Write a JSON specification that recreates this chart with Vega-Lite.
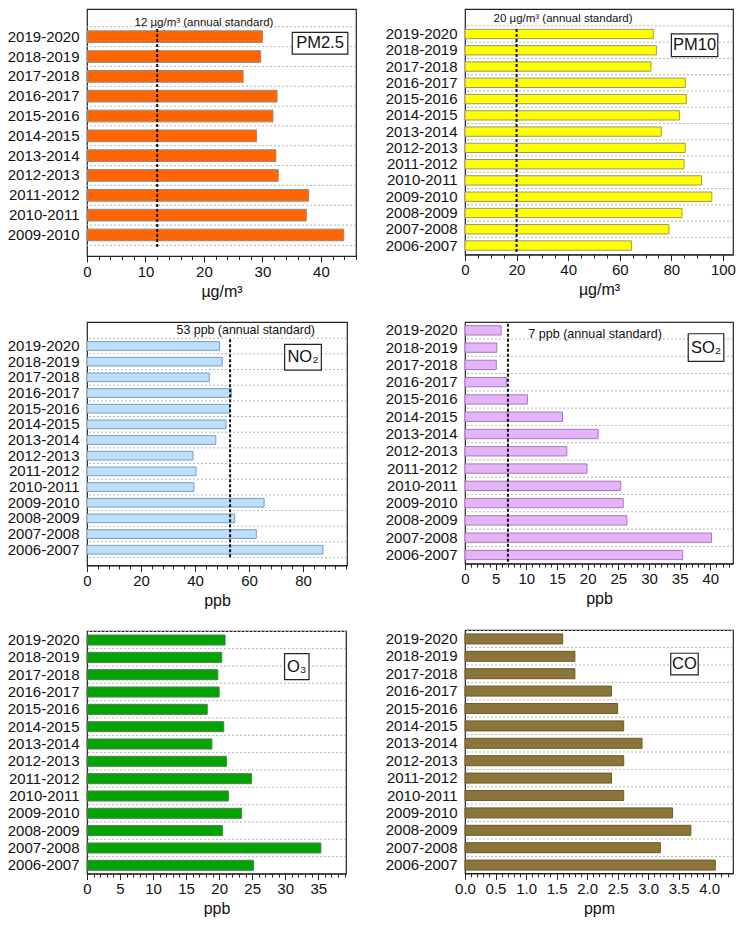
{
  "$schema": "https://vega.github.io/schema/vega-lite/v6.json",
  "padding": {"left": 6, "top": 8, "right": 5, "bottom": 5},
  "background": "white",
  "datasets": {
    "pm25": [
      {"period": "2019-2020", "value": 30.0},
      {"period": "2018-2019", "value": 29.7},
      {"period": "2017-2018", "value": 26.7},
      {"period": "2016-2017", "value": 32.5},
      {"period": "2015-2016", "value": 31.8},
      {"period": "2014-2015", "value": 29.0},
      {"period": "2013-2014", "value": 32.3},
      {"period": "2012-2013", "value": 32.7},
      {"period": "2011-2012", "value": 37.9},
      {"period": "2010-2011", "value": 37.5},
      {"period": "2009-2010", "value": 43.9}
    ],
    "pm10": [
      {"period": "2019-2020", "value": 73.0},
      {"period": "2018-2019", "value": 74.2},
      {"period": "2017-2018", "value": 72.1},
      {"period": "2016-2017", "value": 85.4},
      {"period": "2015-2016", "value": 85.8},
      {"period": "2014-2015", "value": 83.1},
      {"period": "2013-2014", "value": 76.1},
      {"period": "2012-2013", "value": 85.4},
      {"period": "2011-2012", "value": 84.9},
      {"period": "2010-2011", "value": 91.7},
      {"period": "2009-2010", "value": 95.7},
      {"period": "2008-2009", "value": 84.1},
      {"period": "2007-2008", "value": 79.1},
      {"period": "2006-2007", "value": 64.6}
    ],
    "no2": [
      {"period": "2019-2020", "value": 49.1},
      {"period": "2018-2019", "value": 50.1},
      {"period": "2017-2018", "value": 45.3},
      {"period": "2016-2017", "value": 53.5},
      {"period": "2015-2016", "value": 52.8},
      {"period": "2014-2015", "value": 51.5},
      {"period": "2013-2014", "value": 47.7},
      {"period": "2012-2013", "value": 39.3},
      {"period": "2011-2012", "value": 40.4},
      {"period": "2010-2011", "value": 39.6},
      {"period": "2009-2010", "value": 65.6},
      {"period": "2008-2009", "value": 54.7},
      {"period": "2007-2008", "value": 62.7},
      {"period": "2006-2007", "value": 87.4}
    ],
    "so2": [
      {"period": "2019-2020", "value": 5.9},
      {"period": "2018-2019", "value": 5.2},
      {"period": "2017-2018", "value": 5.1},
      {"period": "2016-2017", "value": 6.8},
      {"period": "2015-2016", "value": 10.2},
      {"period": "2014-2015", "value": 15.9},
      {"period": "2013-2014", "value": 21.7},
      {"period": "2012-2013", "value": 16.6},
      {"period": "2011-2012", "value": 19.9},
      {"period": "2010-2011", "value": 25.4},
      {"period": "2009-2010", "value": 25.8},
      {"period": "2008-2009", "value": 26.4},
      {"period": "2007-2008", "value": 40.2},
      {"period": "2006-2007", "value": 35.5}
    ],
    "o3": [
      {"period": "2019-2020", "value": 20.9},
      {"period": "2018-2019", "value": 20.4},
      {"period": "2017-2018", "value": 19.8},
      {"period": "2016-2017", "value": 20.0},
      {"period": "2015-2016", "value": 18.2},
      {"period": "2014-2015", "value": 20.7},
      {"period": "2013-2014", "value": 18.9},
      {"period": "2012-2013", "value": 21.1},
      {"period": "2011-2012", "value": 24.9},
      {"period": "2010-2011", "value": 21.4},
      {"period": "2009-2010", "value": 23.4},
      {"period": "2008-2009", "value": 20.5},
      {"period": "2007-2008", "value": 35.4},
      {"period": "2006-2007", "value": 25.2}
    ],
    "co": [
      {"period": "2019-2020", "value": 1.6},
      {"period": "2018-2019", "value": 1.8},
      {"period": "2017-2018", "value": 1.8},
      {"period": "2016-2017", "value": 2.4},
      {"period": "2015-2016", "value": 2.5},
      {"period": "2014-2015", "value": 2.6},
      {"period": "2013-2014", "value": 2.9},
      {"period": "2012-2013", "value": 2.6},
      {"period": "2011-2012", "value": 2.4},
      {"period": "2010-2011", "value": 2.6},
      {"period": "2009-2010", "value": 3.4},
      {"period": "2008-2009", "value": 3.7},
      {"period": "2007-2008", "value": 3.2},
      {"period": "2006-2007", "value": 4.1}
    ]
  },
  "hconcat": [
    {
      "spacing": 21,
      "vconcat": [
        {
          "width": 269,
          "height": 247,
          "data": {"name": "pm25"},
          "layer": [
            {
              "mark": {"type": "rule", "yOffset": -9.9, "color": "#b5b5b5", "strokeDash": [2, 2]},
              "encoding": {"y": {"field": "period", "type": "nominal", "axis": {"title": null}}}
            },
            {
              "data": {"values": [{}]},
              "mark": {"type": "rule", "yOffset": 10.5, "color": "#b5b5b5", "strokeDash": [2, 2]},
              "encoding": {"y": {"datum": "2009-2010", "type": "nominal"}}
            },
            {
              "mark": {"type": "bar", "fill": "#ff6600", "stroke": "#8c8c8c", "strokeWidth": 1},
              "encoding": {
                "y": {
                  "field": "period", "type": "nominal",
                  "scale": {
                    "domain": ["2019-2020", "2018-2019", "2017-2018", "2016-2017", "2015-2016", "2014-2015", "2013-2014", "2012-2013", "2011-2012", "2010-2011", "2009-2010"],
                    "paddingInner": 0.41, "paddingOuter": 0.933, "align": 0.59
                  },
                  "axis": {"title": null}
                },
                "x": {
                  "field": "value", "type": "quantitative",
                  "scale": {"domain": [0, 46], "nice": false},
                  "axis": {
                    "title": "µg/m³",
                    "format": "d",
                    "tickCount": 200,
                    "values": [0, 2, 4, 6, 8, 10, 12, 14, 16, 18, 20, 22, 24, 26, 28, 30, 32, 34, 36, 38, 40, 42, 44, 46],
                    "labelExpr": "datum.value % 10 === 0 ? datum.label : ''",
                    "tickSize": {"condition": {"test": "datum.value % 10 === 0", "value": 6}, "value": 3.5}
                  }
                }
              }
            },
            {
              "data": {"values": [{}]},
              "mark": {"type": "rule", "yOffset": -7.7, "y2Offset": 12.3, "strokeDash": [3, 2], "strokeWidth": 2, "color": "#111"},
              "encoding": {
                "x": {"datum": 12, "type": "quantitative"},
                "y": {"datum": "2019-2020", "type": "nominal"},
                "y2": {"datum": "2009-2010"}
              }
            },
            {
              "data": {"values": [{}]},
              "mark": {"type": "text", "fontSize": 11.5, "yOffset": -14, "text": "12 µg/m³ (annual standard)"},
              "encoding": {
                "x": {"datum": 20, "type": "quantitative"},
                "y": {"datum": "2019-2020", "type": "nominal"}
              }
            },
            {
              "data": {"values": [{}]},
              "mark": {"type": "rect", "fill": "white", "stroke": "#222", "strokeWidth": 1.2, "height": 21.7, "yOffset": 6.5},
              "encoding": {
                "x": {"datum": 35.1, "type": "quantitative"},
                "x2": {"datum": 44.6},
                "y": {"datum": "2019-2020", "type": "nominal"}
              }
            },
            {
              "data": {"values": [{}]},
              "mark": {"type": "text", "fontSize": 16.5, "yOffset": 6.5, "text": "PM2.5"},
              "encoding": {
                "x": {"datum": 39.85, "type": "quantitative"},
                "y": {"datum": "2019-2020", "type": "nominal"}
              }
            }
          ]
        },
        {
          "width": 260,
          "height": 243.4,
          "data": {"name": "no2"},
          "layer": [
            {
              "mark": {"type": "rule", "yOffset": -7.8, "color": "#b5b5b5", "strokeDash": [2, 2]},
              "encoding": {"y": {"field": "period", "type": "nominal", "axis": {"title": null}}}
            },
            {
              "data": {"values": [{}]},
              "mark": {"type": "rule", "yOffset": 8, "color": "#b5b5b5", "strokeDash": [2, 2]},
              "encoding": {"y": {"datum": "2006-2007", "type": "nominal"}}
            },
            {
              "mark": {"type": "bar", "fill": "#bcdffb", "stroke": "#7d9cbd", "strokeWidth": 1},
              "encoding": {
                "y": {
                  "field": "period", "type": "nominal",
                  "scale": {
                    "domain": ["2019-2020", "2018-2019", "2017-2018", "2016-2017", "2015-2016", "2014-2015", "2013-2014", "2012-2013", "2011-2012", "2010-2011", "2009-2010", "2008-2009", "2007-2008", "2006-2007"],
                    "paddingInner": 0.447, "paddingOuter": 0.989, "align": 0.634
                  },
                  "axis": {"title": null}
                },
                "x": {
                  "field": "value", "type": "quantitative",
                  "scale": {"domain": [0, 96.3], "nice": false},
                  "axis": {
                    "title": "ppb",
                    "format": "d",
                    "tickCount": 200,
                    "values": [0, 4, 8, 12, 16, 20, 24, 28, 32, 36, 40, 44, 48, 52, 56, 60, 64, 68, 72, 76, 80, 84, 88, 92, 96],
                    "labelExpr": "datum.value % 20 === 0 ? datum.label : ''",
                    "tickSize": {"condition": {"test": "datum.value % 20 === 0", "value": 6}, "value": 3.5}
                  }
                }
              }
            },
            {
              "data": {"values": [{}]},
              "mark": {"type": "rule", "yOffset": -6.7, "y2Offset": 8, "strokeDash": [3, 2], "strokeWidth": 2, "color": "#111"},
              "encoding": {
                "x": {"datum": 53, "type": "quantitative"},
                "y": {"datum": "2019-2020", "type": "nominal"},
                "y2": {"datum": "2006-2007"}
              }
            },
            {
              "data": {"values": [{}]},
              "mark": {"type": "text", "fontSize": 12.4, "yOffset": -15.7, "text": "53 ppb (annual standard)"},
              "encoding": {
                "x": {"datum": 58.8, "type": "quantitative"},
                "y": {"datum": "2019-2020", "type": "nominal"}
              }
            },
            {
              "data": {"values": [{}]},
              "mark": {"type": "rect", "fill": "white", "stroke": "#222", "strokeWidth": 1.2, "height": 25.7, "yOffset": 11.2},
              "encoding": {
                "x": {"datum": 73.2, "type": "quantitative"},
                "x2": {"datum": 86.8},
                "y": {"datum": "2019-2020", "type": "nominal"}
              }
            },
            {
              "data": {"values": [{}]},
              "mark": {"type": "text", "fontSize": 16.5, "yOffset": 11.2, "text": "NO₂"},
              "encoding": {
                "x": {"datum": 80, "type": "quantitative"},
                "y": {"datum": "2019-2020", "type": "nominal"}
              }
            }
          ]
        },
        {
          "width": 259,
          "height": 242.6,
          "data": {"name": "o3"},
          "layer": [
            {
              "mark": {"type": "rule", "yOffset": -8.7, "color": "#b5b5b5", "strokeDash": [2, 2]},
              "encoding": {"y": {"field": "period", "type": "nominal", "axis": {"title": null}}}
            },
            {
              "mark": {"type": "bar", "fill": "#02a302", "stroke": "#4f7f4f", "strokeWidth": 1},
              "encoding": {
                "y": {
                  "field": "period", "type": "nominal",
                  "scale": {
                    "domain": ["2019-2020", "2018-2019", "2017-2018", "2016-2017", "2015-2016", "2014-2015", "2013-2014", "2012-2013", "2011-2012", "2010-2011", "2009-2010", "2008-2009", "2007-2008", "2006-2007"],
                    "paddingInner": 0.42, "paddingOuter": 0.21, "align": 0.55
                  },
                  "axis": {"title": null}
                },
                "x": {
                  "field": "value", "type": "quantitative",
                  "scale": {"domain": [0, 39.2], "nice": false},
                  "axis": {
                    "title": "ppb",
                    "format": "d",
                    "tickCount": 200,
                    "values": [0, 1, 2, 3, 4, 5, 6, 7, 8, 9, 10, 11, 12, 13, 14, 15, 16, 17, 18, 19, 20, 21, 22, 23, 24, 25, 26, 27, 28, 29, 30, 31, 32, 33, 34, 35, 36, 37, 38, 39],
                    "labelExpr": "datum.value % 5 === 0 ? datum.label : ''",
                    "tickSize": {"condition": {"test": "datum.value % 5 === 0", "value": 6}, "value": 3.5}
                  }
                }
              }
            },
            {
              "data": {"values": [{}]},
              "mark": {"type": "rect", "fill": "white", "stroke": "#222", "strokeWidth": 1.2, "height": 26, "yOffset": 9.3},
              "encoding": {
                "x": {"datum": 29.9, "type": "quantitative"},
                "x2": {"datum": 33.6},
                "y": {"datum": "2018-2019", "type": "nominal"}
              }
            },
            {
              "data": {"values": [{}]},
              "mark": {"type": "text", "fontSize": 16.5, "yOffset": 9.3, "text": "O₃"},
              "encoding": {
                "x": {"datum": 31.75, "type": "quantitative"},
                "y": {"datum": "2018-2019", "type": "nominal"}
              }
            }
          ]
        }
      ]
    },
    {
      "spacing": 21,
      "vconcat": [
        {
          "width": 268,
          "height": 245.5,
          "data": {"name": "pm10"},
          "layer": [
            {
              "mark": {"type": "rule", "yOffset": -8.1, "color": "#b5b5b5", "strokeDash": [2, 2]},
              "encoding": {"y": {"field": "period", "type": "nominal", "axis": {"title": null}}}
            },
            {
              "mark": {"type": "bar", "fill": "#ffff00", "stroke": "#9a9a5a", "strokeWidth": 1},
              "encoding": {
                "y": {
                  "field": "period", "type": "nominal",
                  "scale": {
                    "domain": ["2019-2020", "2018-2019", "2017-2018", "2016-2017", "2015-2016", "2014-2015", "2013-2014", "2012-2013", "2011-2012", "2010-2011", "2009-2010", "2008-2009", "2007-2008", "2006-2007"],
                    "paddingInner": 0.426, "paddingOuter": 0.757, "align": 0.825
                  },
                  "axis": {"title": null}
                },
                "x": {
                  "field": "value", "type": "quantitative",
                  "scale": {"domain": [0, 103.9], "nice": false},
                  "axis": {
                    "title": "µg/m³",
                    "format": "d",
                    "tickCount": 200,
                    "values": [0, 5, 10, 15, 20, 25, 30, 35, 40, 45, 50, 55, 60, 65, 70, 75, 80, 85, 90, 95, 100],
                    "labelExpr": "datum.value % 20 === 0 ? datum.label : ''",
                    "tickSize": {"condition": {"test": "datum.value % 20 === 0", "value": 6}, "value": 3.5}
                  }
                }
              }
            },
            {
              "data": {"values": [{}]},
              "mark": {"type": "rule", "yOffset": -5, "y2Offset": 6.8, "strokeDash": [3, 2], "strokeWidth": 2, "color": "#111"},
              "encoding": {
                "x": {"datum": 20, "type": "quantitative"},
                "y": {"datum": "2019-2020", "type": "nominal"},
                "y2": {"datum": "2006-2007"}
              }
            },
            {
              "data": {"values": [{}]},
              "mark": {"type": "text", "fontSize": 11.5, "yOffset": -15, "text": "20 µg/m³ (annual standard)"},
              "encoding": {
                "x": {"datum": 38, "type": "quantitative"},
                "y": {"datum": "2019-2020", "type": "nominal"}
              }
            },
            {
              "data": {"values": [{}]},
              "mark": {"type": "rect", "fill": "white", "stroke": "#222", "strokeWidth": 1.2, "height": 22.7, "yOffset": 11.3},
              "encoding": {
                "x": {"datum": 80, "type": "quantitative"},
                "x2": {"datum": 98},
                "y": {"datum": "2019-2020", "type": "nominal"}
              }
            },
            {
              "data": {"values": [{}]},
              "mark": {"type": "text", "fontSize": 16.5, "yOffset": 11.3, "text": "PM10"},
              "encoding": {
                "x": {"datum": 89, "type": "quantitative"},
                "y": {"datum": "2019-2020", "type": "nominal"}
              }
            }
          ]
        },
        {
          "width": 268,
          "height": 241.6,
          "data": {"name": "so2"},
          "layer": [
            {
              "mark": {"type": "rule", "yOffset": -8.6, "color": "#b5b5b5", "strokeDash": [2, 2]},
              "encoding": {"y": {"field": "period", "type": "nominal", "axis": {"title": null}}}
            },
            {
              "mark": {"type": "bar", "fill": "#e6b3fa", "stroke": "#a07cb3", "strokeWidth": 1},
              "encoding": {
                "y": {
                  "field": "period", "type": "nominal",
                  "scale": {
                    "domain": ["2019-2020", "2018-2019", "2017-2018", "2016-2017", "2015-2016", "2014-2015", "2013-2014", "2012-2013", "2011-2012", "2010-2011", "2009-2010", "2008-2009", "2007-2008", "2006-2007"],
                    "paddingInner": 0.46, "paddingOuter": 0.222, "align": 0.48
                  },
                  "axis": {"title": null}
                },
                "x": {
                  "field": "value", "type": "quantitative",
                  "scale": {"domain": [0, 43.7], "nice": false},
                  "axis": {
                    "title": "ppb",
                    "format": "d",
                    "tickCount": 200,
                    "values": [0, 1, 2, 3, 4, 5, 6, 7, 8, 9, 10, 11, 12, 13, 14, 15, 16, 17, 18, 19, 20, 21, 22, 23, 24, 25, 26, 27, 28, 29, 30, 31, 32, 33, 34, 35, 36, 37, 38, 39, 40, 41, 42, 43],
                    "labelExpr": "datum.value % 5 === 0 ? datum.label : ''",
                    "tickSize": {"condition": {"test": "datum.value % 5 === 0", "value": 6}, "value": 3.5}
                  }
                }
              }
            },
            {
              "data": {"values": [{}]},
              "mark": {"type": "rule", "yOffset": -6.7, "y2Offset": 8.7, "strokeDash": [3, 2], "strokeWidth": 2, "color": "#111"},
              "encoding": {
                "x": {"datum": 7, "type": "quantitative"},
                "y": {"datum": "2019-2020", "type": "nominal"},
                "y2": {"datum": "2006-2007"}
              }
            },
            {
              "data": {"values": [{}]},
              "mark": {"type": "text", "fontSize": 12.6, "yOffset": 3.3, "text": "7 ppb (annual standard)"},
              "encoding": {
                "x": {"datum": 21.2, "type": "quantitative"},
                "y": {"datum": "2019-2020", "type": "nominal"}
              }
            },
            {
              "data": {"values": [{}]},
              "mark": {"type": "rect", "fill": "white", "stroke": "#222", "strokeWidth": 1.2, "height": 27.7, "yOffset": 0},
              "encoding": {
                "x": {"datum": 36.4, "type": "quantitative"},
                "x2": {"datum": 42.2},
                "y": {"datum": "2018-2019", "type": "nominal"}
              }
            },
            {
              "data": {"values": [{}]},
              "mark": {"type": "text", "fontSize": 16.5, "text": "SO₂"},
              "encoding": {
                "x": {"datum": 39.3, "type": "quantitative"},
                "y": {"datum": "2018-2019", "type": "nominal"}
              }
            }
          ]
        },
        {
          "width": 268,
          "height": 243.3,
          "data": {"name": "co"},
          "layer": [
            {
              "mark": {"type": "rule", "yOffset": -8.7, "color": "#b5b5b5", "strokeDash": [2, 2]},
              "encoding": {"y": {"field": "period", "type": "nominal", "axis": {"title": null}}}
            },
            {
              "mark": {"type": "bar", "fill": "#8b7538", "stroke": "#6b5a2c", "strokeWidth": 1},
              "encoding": {
                "y": {
                  "field": "period", "type": "nominal",
                  "scale": {
                    "domain": ["2019-2020", "2018-2019", "2017-2018", "2016-2017", "2015-2016", "2014-2015", "2013-2014", "2012-2013", "2011-2012", "2010-2011", "2009-2010", "2008-2009", "2007-2008", "2006-2007"],
                    "paddingInner": 0.425, "paddingOuter": 0.204, "align": 0.55
                  },
                  "axis": {"title": null}
                },
                "x": {
                  "field": "value", "type": "quantitative",
                  "scale": {"domain": [0, 4.39], "nice": false},
                  "axis": {
                    "title": "ppm",
                    "format": ".1f",
                    "tickCount": 200,
                    "values": [0, 0.1, 0.2, 0.3, 0.4, 0.5, 0.6, 0.7, 0.8, 0.9, 1.0, 1.1, 1.2, 1.3, 1.4, 1.5, 1.6, 1.7, 1.8, 1.9, 2.0, 2.1, 2.2, 2.3, 2.4, 2.5, 2.6, 2.7, 2.8, 2.9, 3.0, 3.1, 3.2, 3.3, 3.4, 3.5, 3.6, 3.7, 3.8, 3.9, 4.0, 4.1, 4.2, 4.3],
                    "labelExpr": "abs(datum.value * 2 - round(datum.value * 2)) < 0.001 ? datum.label : ''",
                    "tickSize": {"condition": {"test": "abs(datum.value * 2 - round(datum.value * 2)) < 0.001", "value": 6}, "value": 3.5}
                  }
                }
              }
            },
            {
              "data": {"values": [{}]},
              "mark": {"type": "rect", "fill": "white", "stroke": "#222", "strokeWidth": 1.2, "height": 21.7, "yOffset": 7.8},
              "encoding": {
                "x": {"datum": 3.37, "type": "quantitative"},
                "x2": {"datum": 3.82},
                "y": {"datum": "2018-2019", "type": "nominal"}
              }
            },
            {
              "data": {"values": [{}]},
              "mark": {"type": "text", "fontSize": 16.5, "yOffset": 7.8, "text": "CO"},
              "encoding": {
                "x": {"datum": 3.595, "type": "quantitative"},
                "y": {"datum": "2018-2019", "type": "nominal"}
              }
            }
          ]
        }
      ]
    }
  ],
  "spacing": 26,
  "config": {
    "font": "Liberation Sans",
    "view": {"stroke": "#222", "strokeWidth": 1.2},
    "axis": {
      "labelFont": "Liberation Sans", "labelFontSize": 15, "labelColor": "#111",
      "titleFont": "Liberation Sans", "titleFontSize": 16, "titleFontWeight": "normal", "titleColor": "#111",
      "domainColor": "#222", "tickColor": "#222", "grid": false
    },
    "axisX": {"labelPadding": 2, "titlePadding": 4, "labelFlush": false, "labelOverlap": false, "labelBound": false},
    "axisY": {"ticks": false, "domain": false, "labelPadding": 8},
    "text": {"font": "Liberation Sans", "color": "#111"}
  }
}
